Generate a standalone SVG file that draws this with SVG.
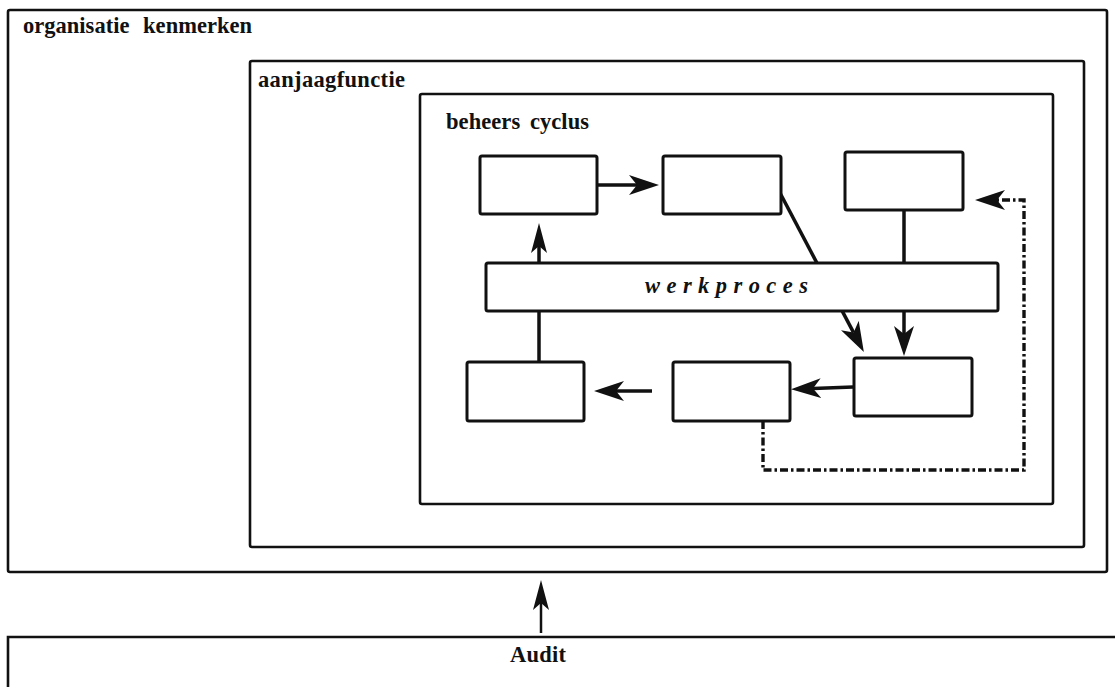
<svg xmlns="http://www.w3.org/2000/svg" width="1115" height="687" viewBox="0 0 1115 687">
  <style>
    .frame { fill: none; stroke: #111; stroke-width: 2.6; }
    .box { fill: #fff; stroke: #111; stroke-width: 3; }
    .label { font-family: "Liberation Serif", "DejaVu Serif", serif; font-weight: bold; font-size: 22.5px; fill: #111; }
    .flow { fill: none; stroke: #111; stroke-width: 3.5; }
    .thin { fill: none; stroke: #111; stroke-width: 2.5; }
    .feedback { fill: none; stroke: #111; stroke-width: 3.4; stroke-dasharray: 8 3 2.5 3; }
  </style>
  <defs>
    <marker id="arrow" viewBox="0 0 30 20" refX="8" refY="10" markerWidth="30" markerHeight="20" markerUnits="userSpaceOnUse" orient="auto">
      <path d="M0,0 L30,10 L0,20 L8,10 Z" fill="#111"/>
    </marker>
    <marker id="arrow-slim" viewBox="0 0 30 16" refX="7" refY="8" markerWidth="30" markerHeight="16" markerUnits="userSpaceOnUse" orient="auto">
      <path d="M0,0 L30,8 L0,16 L7,8 Z" fill="#111"/>
    </marker>
  </defs>
  <rect width="1115" height="687" fill="#fff"/>

  <!-- nested frames -->
  <g id="organisatie-kenmerken">
    <rect class="frame" x="8" y="10" width="1099" height="562" rx="2"/>
    <text class="label" x="23" y="33" textLength="229" lengthAdjust="spacing" word-spacing="8">organisatie kenmerken</text>
  </g>
  <g id="aanjaagfunctie">
    <rect class="frame" x="250" y="61" width="834" height="486" rx="2"/>
    <text class="label" x="258" y="87" textLength="147" lengthAdjust="spacing">aanjaagfunctie</text>
  </g>
  <g id="beheers-cyclus">
    <rect class="frame" x="420" y="94" width="633" height="410" rx="2"/>
    <text class="label" x="446" y="129" textLength="143" lengthAdjust="spacing" word-spacing="4">beheers cyclus</text>
  </g>
  <g id="audit">
    <path class="frame" d="M8,692 V637 H1120"/>
    <text class="label" x="510" y="662" textLength="56" lengthAdjust="spacing">Audit</text>
  </g>

  <!-- connectors -->
  <g id="connectors">
    <line class="flow" x1="597" y1="185" x2="637" y2="185" marker-end="url(#arrow)"/>
    <line class="flow" x1="779" y1="191" x2="853.6" y2="332.6" marker-end="url(#arrow)"/>
    <line class="flow" x1="904" y1="210" x2="904" y2="334" marker-end="url(#arrow)"/>
    <line class="flow" x1="853" y1="387" x2="813" y2="388.5" marker-end="url(#arrow)"/>
    <line class="flow" x1="652" y1="391" x2="616" y2="391" marker-end="url(#arrow)"/>
    <line class="flow" x1="539" y1="362" x2="539" y2="246" marker-end="url(#arrow-slim)"/>
    <path class="feedback" d="M763,421 V470 H1024 V200 H997" marker-end="url(#arrow)"/>
    <line class="thin" x1="541" y1="633" x2="541" y2="603" marker-end="url(#arrow-slim)"/>
  </g>

  <!-- process steps -->
  <g id="step-1"><rect class="box" x="480" y="156" width="117" height="58" rx="2"/></g>
  <g id="step-2"><rect class="box" x="663" y="156" width="118" height="58" rx="2"/></g>
  <g id="step-3"><rect class="box" x="845" y="152" width="118" height="58" rx="2"/></g>
  <g id="step-4"><rect class="box" x="854" y="358" width="118" height="58" rx="2"/></g>
  <g id="step-5"><rect class="box" x="673" y="362" width="117" height="59" rx="2"/></g>
  <g id="step-6"><rect class="box" x="467" y="362" width="117" height="59" rx="2"/></g>
  <g id="werkproces">
    <rect class="box" x="486" y="263" width="512" height="48" rx="2"/>
    <text class="label" x="645" y="293" font-style="italic" textLength="163" lengthAdjust="spacing">werkproces</text>
  </g>
</svg>
